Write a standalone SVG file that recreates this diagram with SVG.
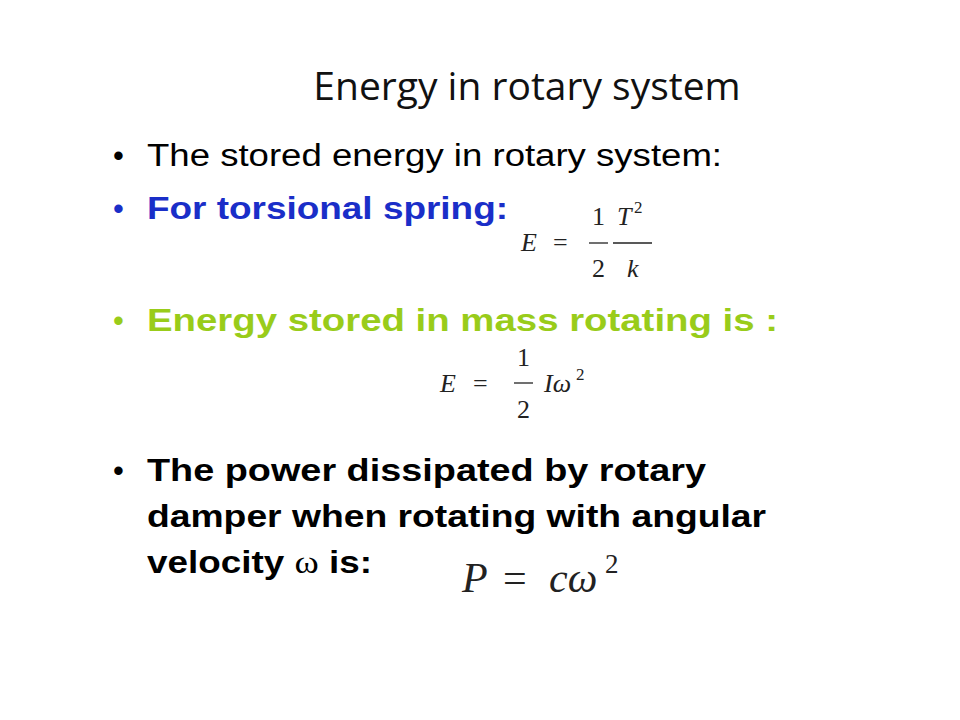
<svg xmlns="http://www.w3.org/2000/svg" width="960" height="720" viewBox="0 0 960 720">
<style>
.t{font-family:"Liberation Sans",Arial,sans-serif;font-size:31px}
.b{font-weight:bold}
.m{font-family:"Liberation Serif","Times New Roman",serif;font-size:26px;fill:#222}
.i{font-style:italic}
.bar{stroke:#222;stroke-width:1.3}
</style>
<rect width="960" height="720" fill="#fff"/>
<text x="527" y="100" text-anchor="middle" font-family="'Open Sans',sans-serif" font-size="39" fill="#111">Energy in rotary system</text>
<g class="t">
<text x="113" y="166">•</text><text x="147" y="166" textLength="575" lengthAdjust="spacingAndGlyphs">The stored energy in rotary system:</text>
<text x="113" y="219" fill="#1a2ec8">•</text><text x="147" y="219" class="b" fill="#1a2ec8" textLength="361" lengthAdjust="spacingAndGlyphs">For torsional spring:</text>
<text x="113" y="331" fill="#99cc1a">•</text><text x="147" y="331" class="b" fill="#99cc1a" textLength="631" lengthAdjust="spacingAndGlyphs">Energy stored in mass rotating is :</text>
<text x="113" y="481">•</text><text x="147" y="481" class="b" textLength="559" lengthAdjust="spacingAndGlyphs">The power dissipated  by rotary</text>
<text x="147" y="527" class="b" textLength="619" lengthAdjust="spacingAndGlyphs">damper when rotating with angular</text>
<text x="147" y="573" class="b" textLength="225" lengthAdjust="spacingAndGlyphs">velocity <tspan font-family="'Liberation Serif',serif" font-weight="normal">ω</tspan> is:</text>
</g>
<g class="m">
<text x="521" y="251" class="i">E</text><text x="553" y="251">=</text>
<text x="592" y="225">1</text><line class="bar" x1="589" y1="243" x2="608" y2="243"/><text x="592" y="277">2</text>
<text x="617" y="225" class="i">T</text><text x="634" y="213" font-size="17">2</text>
<line class="bar" x1="613" y1="243" x2="652" y2="243"/><text x="627" y="277" class="i">k</text>
</g>
<g class="m">
<text x="440" y="392" class="i">E</text><text x="473" y="392">=</text>
<text x="517" y="366">1</text><line class="bar" x1="514" y1="383" x2="533" y2="383"/><text x="517" y="418">2</text>
<text x="544" y="392" class="i">Iω</text><text x="576" y="380" font-size="17">2</text>
</g>
<g class="m">
<text x="462" y="592" class="i" font-size="42">P</text><text x="503" y="592" font-size="42">=</text>
<text x="549" y="592" class="i" font-size="42">cω</text><text x="605" y="573" font-size="27">2</text>
</g>
</svg>
